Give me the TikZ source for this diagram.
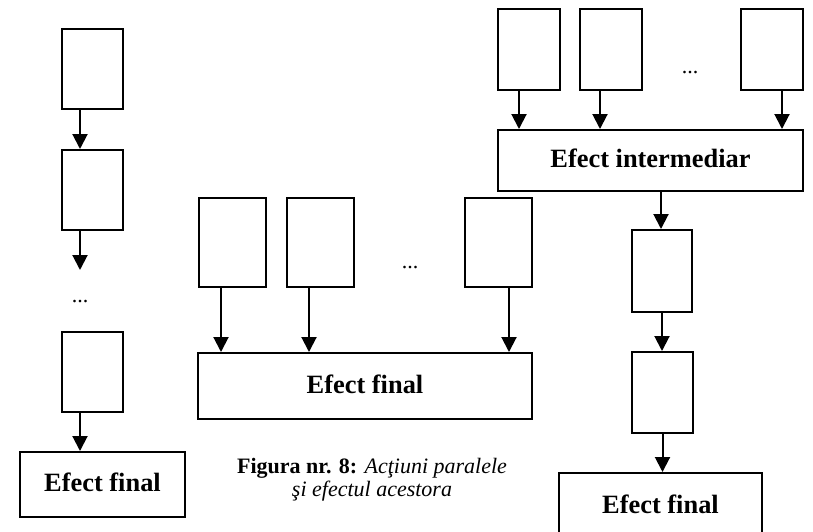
\documentclass[tikz,border=0pt]{standalone}
\usepackage{fontspec}
\setmainfont{Liberation Serif}
\usetikzlibrary{arrows.meta}

\tikzset{
  act/.style={draw, line width=1pt, inner sep=0pt, minimum width=30.5pt, minimum height=40pt},
  efect/.style={draw, line width=1pt, inner sep=0pt, text depth=2pt, font=\bfseries\fontsize{13.2}{15}\selectfont},
  arr/.style={line width=1pt, -{Triangle[width=7.5pt,length=7.5pt]}},
  puncte/.style={inner sep=0pt, font=\fontsize{11}{13}\selectfont}
}

\begin{document}
\begin{tikzpicture}[x=0.5pt,y=-0.5pt]
\useasboundingbox (0,0) rectangle (813,531);
\clip (0,0) rectangle (813,531);

\node[act] (s1) at (92,69) {};
\node[act] (s2) at (92,190) {};
\coordinate (s2end) at (80,270);
\node[puncte] (sdots) at (80,302) {...};
\node[act] (s3) at (92,372) {};
\node[efect, minimum width=82.5pt, minimum height=32.5pt] (fin1) at (102.5,484.5) {Efect final};

\draw[arr] ([xshift=-6pt]s1.south) -- ([xshift=-6pt]s1.south |- s2.north);
\draw[arr] ([xshift=-6pt]s2.south) -- (s2end);
\draw[arr] ([xshift=-6pt]s3.south) -- ([xshift=-6pt]s3.south |- fin1.north);

\node[act, minimum width=33.5pt, minimum height=44.5pt] (p1) at (232.5,242.5) {};
\node[act, minimum width=33.5pt, minimum height=44.5pt] (p2) at (320.5,242.5) {};
\node[puncte] (pdots) at (410,268) {...};
\node[act, minimum width=33.5pt, minimum height=44.5pt] (p3) at (498.5,242.5) {};
\node[efect, minimum width=167pt, minimum height=33pt] (fin2) at (365,386) {Efect final};

\draw[arr] ([xshift=-5.75pt]p1.south) -- ([xshift=-5.75pt]p1.south |- fin2.north);
\draw[arr] ([xshift=-5.75pt]p2.south) -- ([xshift=-5.75pt]p2.south |- fin2.north);
\draw[arr] ([xshift=5.25pt]p3.south) -- ([xshift=5.25pt]p3.south |- fin2.north);

\node[align=center, font=\fontsize{11}{11.5}\selectfont] (titlu) at (372,480)
  {\textbf{Figura nr. 8:} \textit{Acţiuni paralele}\\\textit{şi efectul acestora}};

\node[act, minimum width=31pt, minimum height=40.5pt] (r1) at (529,49.5) {};
\node[act, minimum width=31pt, minimum height=40.5pt] (r2) at (610.5,49.5) {};
\node[puncte] (rdots) at (690,73) {...};
\node[act, minimum width=31pt, minimum height=40.5pt] (r3) at (771.5,49.5) {};
\node[efect, minimum width=152.5pt, minimum height=30.5pt] (inter) at (650.5,160.5) {Efect intermediar};

\draw[arr] ([xshift=-5pt]r1.south) -- ([xshift=-5pt]r1.south |- inter.north);
\draw[arr] ([xshift=-5.25pt]r2.south) -- ([xshift=-5.25pt]r2.south |- inter.north);
\draw[arr] ([xshift=5.25pt]r3.south) -- ([xshift=5.25pt]r3.south |- inter.north);

\node[act, minimum width=30pt, minimum height=41pt] (r4) at (662,271) {};
\node[act, minimum height=40.5pt] (r5) at (662.5,392.5) {};
\node[efect, minimum width=101.5pt, minimum height=33pt] (fin3) at (660.5,506) {Efect final};

\draw[arr] ([xshift=5.25pt]inter.south) -- ([xshift=5.25pt]inter.south |- r4.north);
\draw[arr] (r4.south) -- (r4.south |- r5.north);
\draw[arr] (r5.south) -- (r5.south |- fin3.north);
\end{tikzpicture}
\end{document}
